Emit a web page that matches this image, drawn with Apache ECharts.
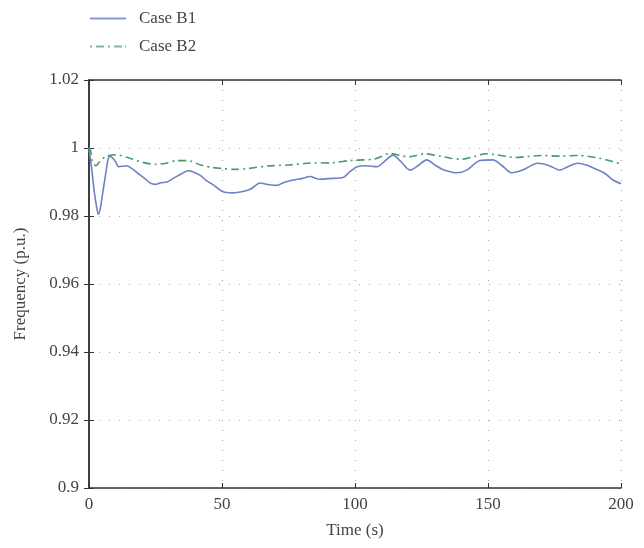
<!DOCTYPE html>
<html><head><meta charset="utf-8">
<script src="https://cdn.jsdelivr.net/npm/echarts@6/dist/echarts.min.js"></script>
<style>html,body{margin:0;padding:0;background:#fff}#c{width:644px;height:548px}</style>
</head><body><div id="c"></div>
<script>
const b1Time = [0, 0.3, 1, 2, 3, 3.5, 4.2, 5, 6, 7, 7.6, 8.5, 10, 11.1, 14.2, 16, 18.5, 21, 23, 25, 27, 29.3, 32, 35, 37.2, 39, 41.7, 44, 47, 50.4, 54, 57.9, 61, 64.3, 67, 70.7, 73, 76.7, 80, 83, 86.8, 90, 95.5, 98, 100.8, 104, 108.3, 111, 114.3, 117, 120.7, 124, 127, 130, 133, 138.3, 142, 147, 151.9, 155, 159, 163, 168.8, 173, 177, 180, 183.8, 187, 190, 194, 197, 200];
const b1Freq = [1.0, 0.998, 0.994, 0.987, 0.982, 0.9805, 0.982, 0.986, 0.991, 0.996, 0.9975, 0.9973, 0.996, 0.9945, 0.9948, 0.994, 0.9925, 0.991, 0.9897, 0.9893, 0.9898, 0.990, 0.9912, 0.9925, 0.9933, 0.9930, 0.992, 0.9905, 0.989, 0.9871, 0.9868, 0.9872, 0.9880, 0.9897, 0.9893, 0.989, 0.9898, 0.9906, 0.991, 0.9916, 0.9908, 0.991, 0.9913, 0.993, 0.9945, 0.9948, 0.9945, 0.996, 0.9979, 0.9962, 0.9935, 0.995, 0.9965, 0.995, 0.9937, 0.9927, 0.9935, 0.9963, 0.9965, 0.995, 0.9927, 0.9935, 0.9955, 0.9948, 0.9935, 0.9945, 0.9955, 0.995, 0.994, 0.9925, 0.9906, 0.9895];
const b2Time = [0, 0.3, 1.3, 2.6, 4, 6.4, 10, 15.4, 20, 25, 29, 33, 37, 42, 46, 50, 55, 60, 67, 75, 82, 92, 98, 103, 107, 110, 113, 116, 120, 123, 126, 132, 136, 140, 145, 149, 153, 157, 160, 165, 170, 177, 184, 188, 192, 196, 200];
const b2Freq = [1.0, 1.0, 0.996, 0.9948, 0.996, 0.9975, 0.998, 0.997, 0.9958, 0.9952, 0.9955, 0.9963, 0.9963, 0.995, 0.9943, 0.994, 0.9937, 0.994, 0.9947, 0.995, 0.9955, 0.9957, 0.9963, 0.9965, 0.9967, 0.9975, 0.9984, 0.998, 0.9974, 0.9978, 0.9983, 0.9976, 0.997, 0.9967, 0.9975, 0.9983, 0.998, 0.9975, 0.9972, 0.9975, 0.9978, 0.9976, 0.9978, 0.9975, 0.997, 0.9962, 0.9953];
const seriesNames = ['Case B1', 'Case B2'];
const xTicks = {min: 0, max: 200, interval: 50};
const yTicks = {min: 0.9, max: 1.02, interval: 0.02};

const font = 'Liberation Serif';
const zip = (a, b) => a.map((v, i) => [v, b[i]]);
const chart = echarts.init(document.getElementById('c'), null, {renderer: 'canvas'});
const axisLine = {show: true, lineStyle: {color: '#333', width: 1.5}};
const split = {show: true, lineStyle: {color: '#aaa', type: [1, 9], width: 1.2}};
const solidIcon = 'path://M0,0H36V2H0Z';
const dashDotIcon = 'path://M0,0H2V2H0Z M6,0H14V2H6Z M18,0H20V2H18Z M24,0H32V2H24Z M35,0H36V2H35Z';
chart.setOption({
  animation: false,
  grid: {left: 89, right: 23, top: 80, bottom: 60},
  legend: {
    left: 85, top: 5, orient: 'vertical', itemGap: 11, itemWidth: 36, itemHeight: 2,
    textStyle: {fontFamily: font, fontSize: 17, color: '#444', padding: [0, 0, 0, 8]},
    data: [{name: seriesNames[0], icon: solidIcon}, {name: seriesNames[1], icon: dashDotIcon}]
  },
  xAxis: [{
    type: 'value', min: xTicks.min, max: xTicks.max, interval: xTicks.interval,
    name: 'Time (s)', nameLocation: 'middle', nameGap: 34,
    nameTextStyle: {fontFamily: font, fontSize: 17, color: '#444'},
    axisLine: axisLine, axisTick: {inside: true, length: 5, lineStyle: {color: '#333'}},
    axisLabel: {fontFamily: font, fontSize: 17, color: '#444', margin: 8},
    splitLine: split
  }, {
    type: 'value', position: 'top', min: xTicks.min, max: xTicks.max, interval: xTicks.interval,
    axisLine: axisLine, axisTick: {inside: true, length: 5, lineStyle: {color: '#333'}},
    axisLabel: {show: false}, splitLine: {show: false}
  }],
  yAxis: [{
    type: 'value', min: yTicks.min, max: yTicks.max, interval: yTicks.interval,
    name: 'Frequency (p.u.)', nameLocation: 'middle', nameGap: 60,
    nameTextStyle: {fontFamily: font, fontSize: 17, color: '#444'},
    axisLine: axisLine, axisTick: {inside: true, length: 5, lineStyle: {color: '#333'}},
    axisLabel: {fontFamily: font, fontSize: 17, color: '#444', margin: 10},
    splitLine: split
  }, {
    type: 'value', position: 'right', min: yTicks.min, max: yTicks.max, interval: yTicks.interval,
    axisLine: axisLine, axisTick: {inside: true, length: 5, lineStyle: {color: '#333'}},
    axisLabel: {show: false}, splitLine: {show: false}
  }],
  series: [{
    name: seriesNames[0], type: 'line', data: zip(b1Time, b1Freq), symbol: 'none', smooth: 0.3,
    lineStyle: {color: '#6f80c4', width: 1.6}, itemStyle: {color: '#8a98d2'}
  }, {
    name: seriesNames[1], type: 'line', data: zip(b2Time, b2Freq), symbol: 'none', smooth: 0.3,
    lineStyle: {color: '#4a9a68', width: 1.6, type: [8, 4, 2, 4]}, itemStyle: {color: '#7bb894'}
  }]
});
</script></body></html>
